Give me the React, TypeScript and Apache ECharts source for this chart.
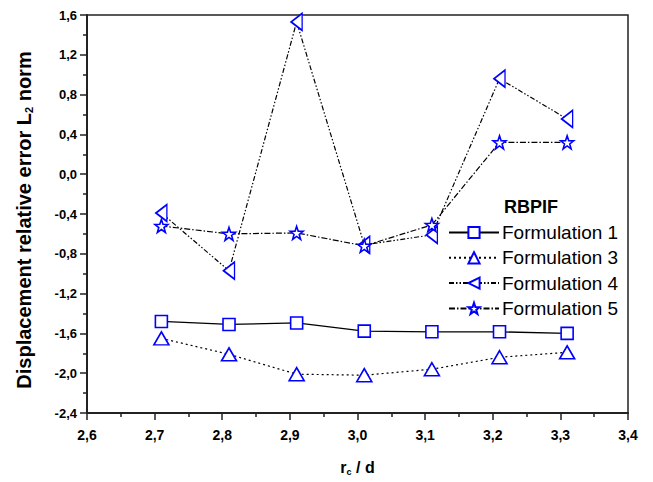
import React, { useEffect, useRef } from "react";
import * as echarts from "echarts";

const xValues = [2.71, 2.81, 2.91, 3.01, 3.11, 3.21, 3.31];
const formulation1 = [-1.48, -1.51, -1.495, -1.577, -1.584, -1.584, -1.6];
const formulation3 = [-1.65, -1.81, -2.01, -2.02, -1.96, -1.84, -1.79];
const formulation4 = [-0.39, -0.97, 1.53, -0.71, -0.61, 0.96, 0.555];
const formulation5 = [-0.52, -0.6, -0.59, -0.72, -0.51, 0.32, 0.32];
const seriesNames = ["Formulation 1", "Formulation 3", "Formulation 4", "Formulation 5"];

const STAR =
  "path://M0,-10 L2.35,-3.24 L9.51,-3.09 L3.8,1.24 L5.88,8.09 L0,4 L-5.88,8.09 L-3.8,1.24 L-9.51,-3.09 L-2.35,-3.24 Z";
const LEFT_TRI = "path://M10,0 L10,20 L0,10 Z";

const fmt = (v: number) => v.toFixed(1).replace(".", ",");

export default function App() {
  const ref = useRef<HTMLDivElement>(null);
  useEffect(() => {
    if (!ref.current) return;
    const chart = echarts.init(ref.current, undefined, { renderer: "svg" });
    const pair = (ys: number[]) => xValues.map((x, i) => [x, ys[i]]);
    const base = (name: string, ys: number[], symbol: string, size: any, dash: any, width = 1.2) => ({
      name,
      type: "line",
      data: pair(ys),
      symbol,
      symbolSize: size,
      showAllSymbol: true,
      lineStyle: { color: "#000", width, type: dash },
      itemStyle: { color: "#fff", borderColor: "#0000ff", borderWidth: 1.6 },
      z: 3,
    });
    const font = "'Liberation Sans', Arial, sans-serif";
    chart.setOption({
      animation: false,
      backgroundColor: "#fff",
      grid: {
        left: 87,
        top: 15,
        width: 541,
        height: 398,
        show: true,
        borderColor: "#222",
        borderWidth: 1.5,
        containLabel: false,
      },
      xAxis: {
        type: "value",
        min: 2.6,
        max: 3.4,
        interval: 0.1,
        name: "r{sub|c} / d",
        nameLocation: "middle",
        nameGap: 45,
        nameTextStyle: {
          fontFamily: font,
          fontWeight: "bold",
          fontSize: 16,
          color: "#000",
          rich: {
            sub: { fontFamily: font, fontWeight: "bold", fontSize: 9, color: "#000", verticalAlign: "bottom", padding: [9, 0, 0, 0] },
          },
        },
        axisLine: { show: true, onZero: false, lineStyle: { color: "#222", width: 2 } },
        axisTick: { show: true, inside: false, length: 7, lineStyle: { color: "#222", width: 1.5 } },
        minorTick: { show: true, splitNumber: 2, length: 4, lineStyle: { color: "#222", width: 1.5 } },
        splitLine: { show: false },
        axisLabel: {
          formatter: (v: number) => fmt(v),
          fontFamily: font,
          fontWeight: "bold",
          fontSize: 14,
          color: "#000",
          margin: 15,
        },
      },
      yAxis: {
        type: "value",
        min: -2.4,
        max: 1.6,
        interval: 0.4,
        axisLine: { show: true, onZero: false, lineStyle: { color: "#222", width: 2 } },
        axisTick: { show: true, inside: false, length: 7, lineStyle: { color: "#222", width: 1.5 } },
        minorTick: { show: true, splitNumber: 2, length: 4, lineStyle: { color: "#222", width: 1.5 } },
        splitLine: { show: false },
        axisLabel: {
          formatter: (v: number) => fmt(v),
          fontFamily: font,
          fontWeight: "bold",
          fontSize: 13,
          color: "#000",
          margin: 10,
        },
      },
      legend: {
        data: seriesNames,
        orient: "vertical",
        left: 448,
        top: 223,
        padding: 0,
        itemWidth: 50,
        itemHeight: 14,
        itemGap: 6.3,
        textStyle: { fontFamily: font, fontSize: 19, color: "#000", padding: [0, 0, 0, -2] },
      },
      graphic: [
        {
          type: "text",
          left: 504,
          top: 198,
          style: { text: "RBPIF", font: `bold 18px ${font}`, fill: "#000" },
        },
        {
          type: "text",
          x: 24,
          y: 220,
          rotation: Math.PI / 2,
          style: {
            text: "Displacement relative error L{sub|2} norm",
            fontFamily: font,
            fontWeight: "bold",
            fontSize: 20,
            fill: "#000",
            align: "center",
            verticalAlign: "middle",
            rich: {
              sub: { fontFamily: font, fontWeight: "bold", fontSize: 11, fill: "#000", padding: [10, 0, 0, 0] },
            },
          },
        },
      ],
      series: [
        base(seriesNames[0], formulation1, "rect", 12, "solid", 1.3),
        base(seriesNames[1], formulation3, "triangle", [15, 13], [2, 3]),
        base(seriesNames[2], formulation4, LEFT_TRI, [11, 17], [5, 2, 1.5, 2, 1.5, 2]),
        base(seriesNames[3], formulation5, STAR, 13, [6, 2, 1.5, 2]),
      ],
    });
    return () => chart.dispose();
  }, []);
  return (
    <div
      ref={ref}
      style={{ position: "fixed", left: 0, top: 0, width: 653, height: 482 }}
    />
  );
}
